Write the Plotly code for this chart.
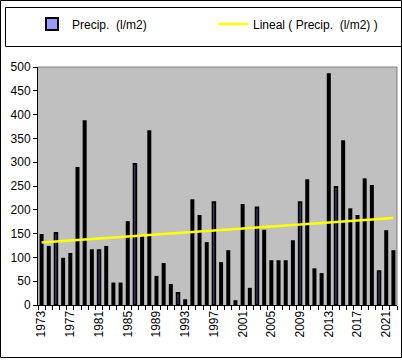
import plotly.graph_objects as go
import numpy as np

years = list(range(1973, 2023))
precip = [147, 122, 151, 97, 107, 288, 386, 115, 115, 122,
          45, 45, 174, 296, 143, 365, 59, 86, 42, 25,
          10, 220, 187, 130, 216, 88, 113, 8, 210, 34,
          205, 156, 92, 92, 92, 134, 216, 262, 75, 65,
          485, 248, 344, 201, 187, 264, 250, 71, 155, 113]
label_years = years[::4]
striped_years = [1975, 1981, 1986, 1992, 1997, 2003, 2009, 2014, 2020]

W, H = 402, 360
ML, MR, MT, MB = 38, 5, 67, 55
PW, PH = W - ML - MR, H - MT - MB
CAT_PX = PW / len(years)

def px_x(p):
    return (p - ML) / PW

def px_y(p):
    return (H - MB - p) / PH

FONT = "Arial, 'Liberation Sans', sans-serif"

bar_w = [(2.5 if y in striped_years else 2) / CAT_PX for y in years]
coef = np.polyfit(years, precip, 1)
trend = np.polyval(coef, years)

fig = go.Figure()
fig.add_bar(x=years, y=precip, name="Precip.  (l/m2)", width=bar_w,
            marker=dict(color="#9999FF", line=dict(color="black", width=2)))
fig.add_scatter(x=years, y=trend, mode="lines", name="Lineal ( Precip.  (l/m2) )",
                line=dict(color="#FFFF00", width=2.5))

fig.update_layout(
    width=W, height=H,
    margin=dict(l=ML, r=MR, t=MT, b=MB, autoexpand=False),
    paper_bgcolor="white", plot_bgcolor="#C0C0C0",
    font=dict(family=FONT, size=12, color="black"),
    showlegend=True,
    legend=dict(orientation="h", x=px_x(32), xanchor="left", y=px_y(24), yanchor="middle",
                entrywidth=136, entrywidthmode="pixels", bgcolor="rgba(0,0,0,0)",
                borderwidth=0, font=dict(family=FONT, size=12, color="black"),
                traceorder="normal"),
    xaxis=dict(range=[1972.5, 2022.5], tickmode="array", tickvals=label_years,
               ticktext=[str(y) for y in label_years], tickangle=-90, ticks="",
               showline=True, linecolor="black", linewidth=1, showgrid=False, zeroline=False,
               tickfont=dict(family=FONT, size=12, color="black"),
               minor=dict(tickmode="array", tickvals=[y - 0.5 for y in years] + [2022.5],
                          ticks="outside", ticklen=4, tickcolor="black", showgrid=False)),
    yaxis=dict(range=[0, 500], tick0=0, dtick=50, ticks="outside", ticklen=4, tickcolor="black",
               showline=True, linecolor="black", linewidth=1, showgrid=False, zeroline=False,
               tickfont=dict(family=FONT, size=12, color="black")),
    shapes=[
        dict(type="line", xref="paper", yref="paper", x0=0, x1=1, y0=1, y1=1,
             line=dict(color="#808080", width=1)),
        dict(type="line", xref="paper", yref="paper", x0=1, x1=1, y0=0, y1=1,
             line=dict(color="#808080", width=1)),
        dict(type="rect", xref="paper", yref="paper", x0=px_x(0.5), x1=px_x(401.5),
             y0=px_y(0.5), y1=px_y(357.5), line=dict(color="black", width=1)),
        dict(type="rect", xref="paper", yref="paper", x0=px_x(5.5), x1=px_x(410),
             y0=px_y(7.5), y1=px_y(46.5), line=dict(color="black", width=1)),
    ],
)

fig.write_html("out.html", config={"displayModeBar": False},
               post_script="document.body.style.margin='0';document.body.style.overflow='hidden';")
